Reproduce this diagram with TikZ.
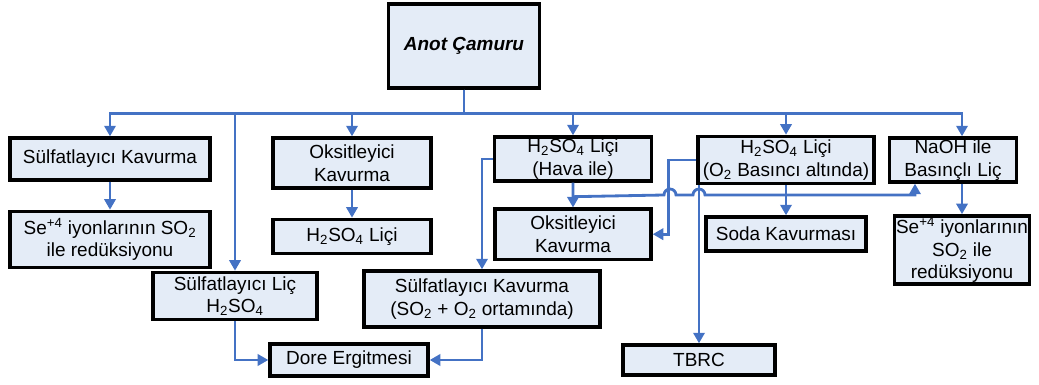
\documentclass[tikz,border=0pt]{standalone}
\usepackage{fontspec}
\setmainfont{Liberation Sans}
\usepackage{xcolor}
\usepackage{tikz}
\usetikzlibrary{arrows.meta,positioning,calc}
\definecolor{boxfill}{HTML}{E4ECF7}
\definecolor{flowblue}{HTML}{4472C4}
\tikzset{
  stepbox/.style={
    draw=black, fill=boxfill, line width=2.4pt,
    font=\fontsize{13.5}{16}\selectfont, align=center,
    inner sep=1pt,
  },
  arrow/.style={-{Triangle[length=7.5pt,width=8pt]}, line width=2pt, color=flowblue},
  line/.style={line width=2pt, color=flowblue},
}

\begin{document}
\begin{tikzpicture}[x=0.025cm, y=-0.025cm]
  \useasboundingbox (0,0) rectangle (1039,385);

  % root
  \node[stepbox, minimum width=3.78cm, minimum height=2.1cm] (anot) at (464,46)
    {\textbf{\textit{Anot Çamuru}}};

  % first row
  \node[stepbox, minimum width=5cm, minimum height=1.05cm] (sulfkav) at (110,159)
    {Sülfatlayıcı Kavurma};
  \node[stepbox, minimum width=3.95cm, minimum height=1.25cm] (oksk1) at (352,163)
    {Oksitleyici\\Kavurma};
  \node[stepbox, minimum width=3.93cm, minimum height=1.1cm] (hava) at (573,159)
    {H\textsubscript{2}SO\textsubscript{4} Liçi\\(Hava ile)};
  \node[stepbox, minimum width=4.4cm, minimum height=1.18cm] (basinc) at (786,160)
    {H\textsubscript{2}SO\textsubscript{4} Liçi\\(O\textsubscript{2} Basıncı altında)};
  \node[stepbox, minimum width=3.18cm, minimum height=1.1cm] (naoh) at (953,160)
    {NaOH ile\\Basınçlı Liç};

  % second row
  \node[stepbox, minimum width=5cm, minimum height=1.4cm, below=0.7cm of sulfkav] (se1)
    {Se\textsuperscript{+4} iyonlarının SO\textsubscript{2}\\ile redüksiyonu};
  \node[stepbox, minimum width=3.95cm, minimum height=0.85cm, below=0.7cm of oksk1] (lic1)
    {H\textsubscript{2}SO\textsubscript{4} Liçi};
  \node[stepbox, minimum width=3.9cm, minimum height=1.25cm, below=0.62cm of hava] (oksk2)
    {Oksitleyici\\Kavurma};
  \node[stepbox, minimum width=4cm, minimum height=0.85cm, below=0.75cm of basinc] (soda)
    {Soda Kavurması};
  \node[stepbox, minimum width=3.3cm, minimum height=1.65cm] (se2) at (962,250)
    {Se\textsuperscript{+4} iyonlarının\\SO\textsubscript{2} ile\\redüksiyonu};

  % lower rows
  \node[stepbox, minimum width=4.1cm, minimum height=1.18cm] (sulflic) at (235,296)
    {Sülfatlayıcı Liç\\H\textsubscript{2}SO\textsubscript{4}};
  \node[stepbox, minimum width=5.9cm, minimum height=1.4cm] (sulfkav2) at (482,299)
    {Sülfatlayıcı Kavurma\\(SO\textsubscript{2} + O\textsubscript{2} ortamında)};
  \node[stepbox, minimum width=3.95cm, minimum height=0.8cm] (dore) at (349,360)
    {Dore Ergitmesi};
  \node[stepbox, minimum width=3.8cm, minimum height=0.75cm] (tbrc) at (699,360)
    {TBRC};

  % hops over the vertical lines
  \coordinate (hopa) at (670,195);
  \coordinate (hopb) at (699,195);

  \draw[arrow] (anot.south) -- ++(0,24) -| (sulfkav.north);
  \draw[arrow] (anot.south) -- ++(0,24) -| (sulflic.north);
  \draw[arrow] (anot.south) -- ++(0,24) -| (oksk1.north);
  \draw[arrow] (anot.south) -- ++(0,24) -| (hava.north);
  \draw[arrow] (anot.south) -- ++(0,24) -| (basinc.north);
  \draw[arrow] (anot.south) -- ++(0,24) -| (se2.north |- naoh.north);

  \draw[arrow] (sulfkav) -- (se1);
  \draw[arrow] (oksk1) -- (lic1);
  \draw[arrow] (sulflic.south) |- (dore.west);
  \draw[arrow] (sulfkav2.south) |- (dore.east);
  \draw[arrow] (hava.west) -| (sulfkav2.north);
  \draw[arrow] (hava) -- (oksk2);
  \draw[arrow] (hava.south) -- ++(0,14) -- ([xshift=-0.15cm]hopa)
    arc[start angle=180, end angle=360, radius=6]
    -- ([xshift=-0.15cm]hopb)
    arc[start angle=180, end angle=360, radius=6]
    -| ([xshift=-0.95cm]naoh.south);
  \draw[arrow] (basinc.west) -- ++(-28,0) |- (oksk2.east);
  \draw[arrow] (tbrc.north |- basinc.south) -- (tbrc.north);
  \draw[arrow] (basinc) -- (soda);
  \draw[arrow] (se2.north |- naoh.south) -- (se2.north);

\end{tikzpicture}
\end{document}
